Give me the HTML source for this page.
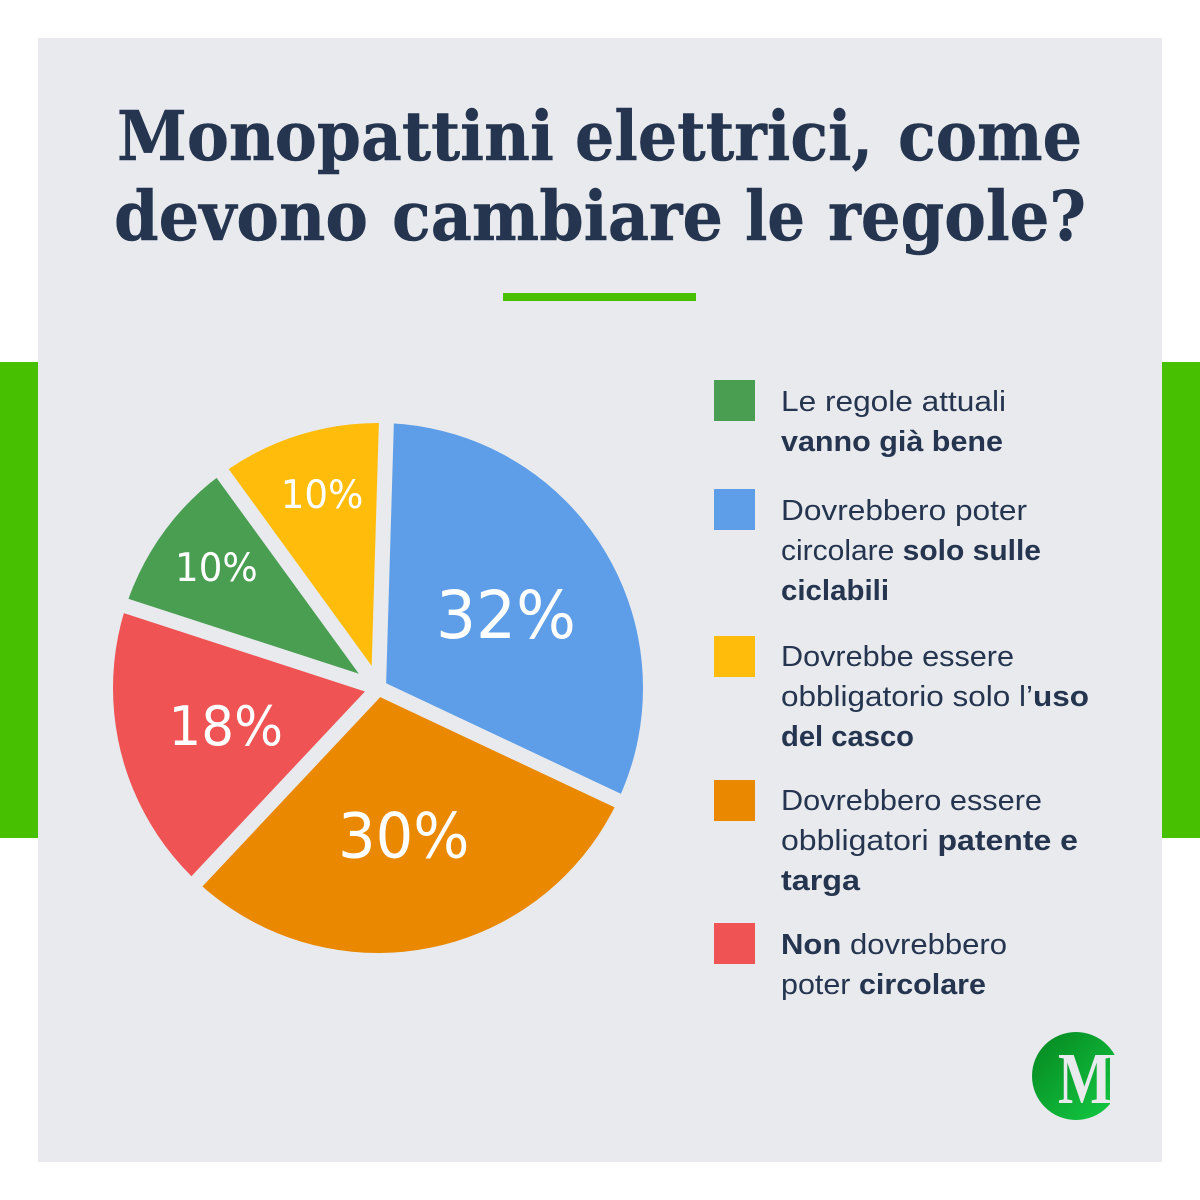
<!DOCTYPE html>
<html lang="it">
<head>
<meta charset="utf-8">
<title>Monopattini elettrici</title>
<style>
html,body{margin:0;padding:0;background:#fff;width:1200px;height:1200px;overflow:hidden}
svg{display:block}
.t{font-family:"DejaVu Serif","Liberation Serif",serif;font-weight:700;font-size:68px;fill:#25354f;stroke:#25354f;stroke-width:.5px}
.l{font-family:"Liberation Sans",sans-serif;font-size:29px;fill:#25354f}
.l tspan{font-weight:700}
.p{font-family:"DejaVu Sans","Liberation Sans",sans-serif;fill:#fff}
</style>
</head>
<body>
<svg id="chart" xmlns="http://www.w3.org/2000/svg" width="1200" height="1200" viewBox="0 0 1200 1200">
  <defs>
    <clipPath id="pie-clip"><circle cx="378" cy="688" r="265"/></clipPath>
    <linearGradient id="logo-grad" x1="0" y1="0" x2="1" y2="1">
      <stop offset="0" stop-color="#05861f"/>
      <stop offset="1" stop-color="#14cc45"/>
    </linearGradient>
  </defs>
  <rect x="0" y="362" width="38" height="476" fill="#46c000"/>
  <rect x="1162" y="362" width="38" height="476" fill="#46c000"/>
  <rect x="38" y="38" width="1124" height="1124" fill="#e8eaee"/>

  <g>
    <text class="t" x="117" y="160" textLength="437" lengthAdjust="spacingAndGlyphs">Monopattini</text>
    <text class="t" x="575" y="160" textLength="298" lengthAdjust="spacingAndGlyphs">elettrici,</text>
    <text class="t" x="898" y="160" textLength="184" lengthAdjust="spacingAndGlyphs">come</text>
    <text class="t" x="114" y="240" textLength="254" lengthAdjust="spacingAndGlyphs">devono</text>
    <text class="t" x="392" y="240" textLength="331" lengthAdjust="spacingAndGlyphs">cambiare</text>
    <text class="t" x="745" y="240" textLength="60" lengthAdjust="spacingAndGlyphs">le</text>
    <text class="t" x="828" y="240" textLength="258" lengthAdjust="spacingAndGlyphs">regole?</text>
  </g>
  <rect x="503" y="293" width="193" height="8" fill="#46c000"/>

  <g id="pie" clip-path="url(#pie-clip)"></g>
  <g id="pie-labels"></g>

  <g>
    <rect x="714" y="380" width="41" height="41" fill="#4a9e52"/>
    <text class="l" x="781" y="411" textLength="225" lengthAdjust="spacingAndGlyphs">Le regole attuali</text>
    <text class="l" x="781" y="451" textLength="222" lengthAdjust="spacingAndGlyphs"><tspan>vanno già bene</tspan></text>

    <rect x="714" y="489" width="41" height="41" fill="#5e9ee8"/>
    <text class="l" x="781" y="520" textLength="246" lengthAdjust="spacingAndGlyphs">Dovrebbero poter</text>
    <text class="l" x="781" y="560" textLength="260" lengthAdjust="spacingAndGlyphs">circolare <tspan>solo sulle</tspan></text>
    <text class="l" x="781" y="600" textLength="108" lengthAdjust="spacingAndGlyphs"><tspan>ciclabili</tspan></text>

    <rect x="714" y="636" width="41" height="41" fill="#ffbc0b"/>
    <text class="l" x="781" y="666" textLength="233" lengthAdjust="spacingAndGlyphs">Dovrebbe essere</text>
    <text class="l" x="781" y="706" textLength="308" lengthAdjust="spacingAndGlyphs">obbligatorio solo l’<tspan>uso</tspan></text>
    <text class="l" x="781" y="746" textLength="133" lengthAdjust="spacingAndGlyphs"><tspan>del casco</tspan></text>

    <rect x="714" y="780" width="41" height="41" fill="#ea8800"/>
    <text class="l" x="781" y="810" textLength="261" lengthAdjust="spacingAndGlyphs">Dovrebbero essere</text>
    <text class="l" x="781" y="850" textLength="297" lengthAdjust="spacingAndGlyphs">obbligatori <tspan>patente e</tspan></text>
    <text class="l" x="781" y="890" textLength="79" lengthAdjust="spacingAndGlyphs"><tspan>targa</tspan></text>

    <rect x="714" y="923" width="41" height="41" fill="#ef5353"/>
    <text class="l" x="781" y="954" textLength="226" lengthAdjust="spacingAndGlyphs"><tspan>Non</tspan> dovrebbero</text>
    <text class="l" x="781" y="994" textLength="205" lengthAdjust="spacingAndGlyphs">poter <tspan>circolare</tspan></text>
  </g>

  <g>
    <circle cx="1076" cy="1076" r="44" fill="url(#logo-grad)"/>
    <rect x="1110" y="1055" width="14" height="49" fill="#e8eaee"/>
    <text x="1058" y="1103" textLength="54" lengthAdjust="spacingAndGlyphs" font-family="Liberation Serif, serif" font-weight="700" font-size="73" fill="#e8eaee">M</text>
  </g>
</svg>
<script>
const categories = ['Dovrebbero poter circolare solo sulle ciclabili', 'Dovrebbero essere obbligatori patente e targa', 'Non dovrebbero poter circolare', 'Le regole attuali vanno già bene', 'Dovrebbe essere obbligatorio solo l’uso del casco'];
const seriesValues = [32, 30, 18, 10, 10];
const sliceColors = ['#5e9ee8', '#ea8800', '#ef5353', '#4a9e52', '#ffbc0b'];

const NS = 'http://www.w3.org/2000/svg';
const pieCx = 378.5, pieCy = 688, wedgeR = 420, startAngle = 0, seamNudge = 1.7, labelNudge = 1, gap = 15;
const total = seriesValues.reduce(function (a, b) { return a + b; }, 0);
function angleScale(v) { return v / total * 360; }
function unit(angle) {
  const a = angle * Math.PI / 180;
  return [Math.sin(a), -Math.cos(a)];
}
function labelRadius(v) { return v < 15 ? 203 : (v < 25 ? 157 : 148); }
function labelSize(v) { return v < 15 ? 39 : (v < 25 ? 54 : (v < 31 ? 62 : 66)); }

const pieGroup = document.getElementById('pie');
const labelGroup = document.getElementById('pie-labels');
let current = startAngle;
seriesValues.forEach(function (v, i) {
  const sweepNominal = angleScale(v);
  const a0 = current + (i === 0 ? seamNudge : 0);
  const a1 = current + sweepNominal + (i === seriesValues.length - 1 ? seamNudge : 0);
  const sweep = a1 - a0;
  const midAngle = (a0 + a1) / 2;
  const mid = unit(midAngle);
  const inset = (gap / 2) / Math.sin(sweep / 2 * Math.PI / 180);
  const ax = pieCx + inset * mid[0];
  const ay = pieCy + inset * mid[1];
  const u0 = unit(a0);
  const u1 = unit(a1);
  const path = document.createElementNS(NS, 'path');
  path.setAttribute('d', 'M' + ax + ' ' + ay + 'L' + (ax + wedgeR * u0[0]) + ' ' + (ay + wedgeR * u0[1]) + 'A' + wedgeR + ' ' + wedgeR + ' 0 ' + (sweep > 180 ? 1 : 0) + ' 1 ' + (ax + wedgeR * u1[0]) + ' ' + (ay + wedgeR * u1[1]) + 'Z');
  path.setAttribute('fill', sliceColors[i]);
  
  
  const tip = document.createElementNS(NS, 'title');
  tip.textContent = categories[i];
  path.appendChild(tip);
  pieGroup.appendChild(path);

  const r = labelRadius(v);
  const size = labelSize(v);
  const width = size * 2.12;
  const lp = unit(midAngle + labelNudge);
  const label = document.createElementNS(NS, 'text');
  label.setAttribute('class', 'p');
  label.setAttribute('x', pieCx + r * lp[0] - width / 2);
  label.setAttribute('y', pieCy + r * lp[1] + size * 0.365 + 1);
  label.setAttribute('font-size', size);
  label.setAttribute('textLength', width);
  label.setAttribute('lengthAdjust', 'spacingAndGlyphs');
  
  
  label.textContent = v + '%';
  labelGroup.appendChild(label);
  current += sweepNominal;
});
</script>
</body>
</html>
